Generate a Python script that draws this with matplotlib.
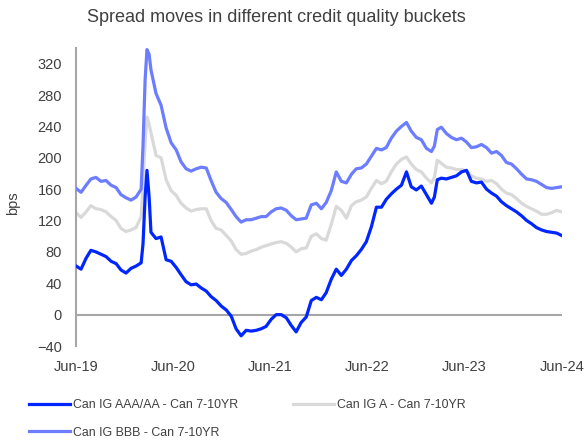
import pandas as pd
import matplotlib
matplotlib.use('Agg')
import matplotlib.pyplot as plt

"""spread moves by credit quality bucket"""

dates = [
    '2019-06-30', '2019-07-19', '2019-08-07', '2019-08-25', '2019-09-13', '2019-10-02', '2019-10-21',
    '2019-11-09', '2019-11-28', '2019-12-16', '2020-01-04', '2020-01-23', '2020-02-11', '2020-03-01',
    '2020-03-08', '2020-03-16', '2020-03-23', '2020-03-31', '2020-04-07',
    '2020-04-26', '2020-05-15', '2020-06-03', '2020-06-22', '2020-07-11', '2020-07-29', '2020-08-17',
    '2020-09-05', '2020-09-24', '2020-10-13', '2020-11-01', '2020-11-19', '2020-12-08', '2020-12-27',
    '2021-01-15', '2021-02-03', '2021-02-21', '2021-03-12', '2021-03-31', '2021-04-19', '2021-05-08',
    '2021-05-27', '2021-06-14', '2021-07-03', '2021-07-22', '2021-08-10', '2021-08-29', '2021-09-17',
    '2021-10-05', '2021-10-24', '2021-11-12', '2021-12-01', '2021-12-20', '2022-01-08', '2022-01-26',
    '2022-02-14', '2022-03-05', '2022-03-24', '2022-04-12', '2022-05-01', '2022-05-19', '2022-06-07',
    '2022-06-26', '2022-07-15', '2022-08-03', '2022-08-22', '2022-09-09', '2022-09-28', '2022-10-17',
    '2022-11-05', '2022-11-24', '2022-12-12', '2022-12-31', '2023-01-19', '2023-02-07', '2023-02-26',
    '2023-03-09', '2023-03-20',
    '2023-04-04', '2023-04-23', '2023-05-12', '2023-05-31', '2023-06-19', '2023-07-08', '2023-07-26',
    '2023-08-14', '2023-09-02', '2023-09-21', '2023-10-10', '2023-10-29', '2023-11-16', '2023-12-05',
    '2023-12-24', '2024-01-12', '2024-01-31', '2024-02-19', '2024-03-08', '2024-03-27', '2024-04-15',
    '2024-05-04', '2024-05-23', '2024-06-11', '2024-06-29',
]

aaa_aa = [
    62, 58, 72, 82, 80, 77, 74, 68, 65, 57, 53, 59, 62, 66,
    90, 150, 184, 150, 105,
    97, 99, 70, 68, 60, 51, 42, 38, 39, 34,
    30, 23, 18, 11, 6, -2, -18, -27, -20, -21,
    -20, -18, -15, -6, 0, 0, -4, -14, -22, -10,
    -3, 18, 22, 19, 28, 45, 58, 50, 58, 69,
    75, 83, 93, 112, 137, 137, 147, 154, 160, 165,
    182, 163, 159, 164, 153, 142,
    150, 172,
    174, 173, 175, 177, 182, 184, 170, 168, 169, 160,
    155, 151, 144, 139, 135, 131, 126, 120, 116, 111,
    108, 106, 105, 104, 101,
]

single_a = [
    130, 124, 131, 139, 135, 134, 131, 125, 120, 110, 106, 108, 111, 125,
    165, 220, 252, 243, 232,
    203, 200, 172, 158, 152, 142, 136, 132, 134, 135,
    135, 120, 110, 108, 101, 94, 83, 77, 78, 81,
    83, 86, 88, 90, 92, 93, 91, 86, 80, 84,
    85, 100, 103, 97, 95, 115, 138, 133, 123, 139,
    144, 146, 150, 161, 171, 167, 170, 182, 192, 198,
    201, 192, 185, 182, 174, 168,
    175, 197,
    193, 188, 187, 185, 185, 183, 177, 174, 173, 170,
    171, 167, 160, 155, 153, 148, 142, 138, 135, 132,
    128, 128, 130, 133, 131,
]

bbb = [
    161, 156, 165, 173, 175, 170, 171, 165, 162, 153, 149, 146, 150, 160,
    215, 300, 338, 332, 312,
    282, 267, 238, 219, 210, 195, 186, 183, 186, 188,
    187, 171, 156, 148, 143, 134, 125, 118, 121, 121,
    123, 125, 125, 131, 135, 136, 133, 126, 121, 122,
    123, 140, 142, 135, 143, 158, 182, 170, 168, 179,
    186, 187, 192, 202, 212, 210, 213, 225, 234, 240,
    245, 234, 226, 223, 212, 208,
    215, 236,
    239, 231, 226, 223, 225, 220, 213, 214, 217, 213,
    206, 208, 203, 194, 192, 186, 179, 173, 172, 170,
    166, 162, 161, 162, 163,
]

tick_dates = ['2019-06-30', '2020-06-30', '2021-06-30', '2022-06-30', '2023-06-30', '2024-06-30']
tick_labels = ['Jun-19', 'Jun-20', 'Jun-21', 'Jun-22', 'Jun-23', 'Jun-24']
y_ticks = [-40, 0, 40, 80, 120, 160, 200, 240, 280, 320]

plt.rcParams['font.family'] = ['Liberation Sans', 'DejaVu Sans']
txt = '#404040'

x = pd.to_datetime(dates)
fig = plt.figure(figsize=(5.85, 4.4), dpi=100)
ax = fig.add_axes([76 / 585, 1 - 346 / 440, 486 / 585, 298 / 440])

ax.axhline(0, color='#A6A6A6', lw=1.5, zorder=1)
l1, = ax.plot(x, aaa_aa, color='#0026FF', lw=2.3, label='Can IG AAA/AA - Can 7-10YR', zorder=4)
l2, = ax.plot(x, single_a, color='#D9D9D9', lw=2.3, label='Can IG A - Can 7-10YR', zorder=2)
l3, = ax.plot(x, bbb, color='#6C7DFF', lw=2.3, label='Can IG BBB - Can 7-10YR', zorder=3)

ax.set_ylim(-40, 340)
ax.set_xlim(pd.Timestamp('2019-06-30'), pd.Timestamp('2024-07-01'))
ax.set_yticks(y_ticks)
ax.set_xticks(pd.to_datetime(tick_dates))
ax.set_xticklabels(tick_labels)
ax.tick_params(axis='y', length=0, pad=10, labelsize=10.5, labelcolor=txt)
ax.tick_params(axis='x', length=0, pad=10, labelsize=10.5, labelcolor=txt)
for s in ['top', 'right', 'bottom']:
    ax.spines[s].set_visible(False)
ax.spines['left'].set_color('#A6A6A6')
ax.spines['left'].set_linewidth(1.5)

ax.set_ylabel('bps', fontsize=10.5, color=txt)
ax.yaxis.set_label_coords(-0.115, 0.48)

fig.text(276 / 585, 1 - 18 / 440, 'Spread moves in different credit quality buckets',
         ha='center', va='center', fontsize=13, color=txt)

fig.legend(handles=[l1, l3, l2], ncol=2, loc='upper left',
           bbox_to_anchor=(29 / 585, 1 - 399 / 440), frameon=False,
           fontsize=8.9, labelcolor=txt, handlelength=3.3, handletextpad=0.25,
           columnspacing=4.45, labelspacing=1.28, borderpad=0, borderaxespad=0)

plt.savefig('out.png', dpi=100)
